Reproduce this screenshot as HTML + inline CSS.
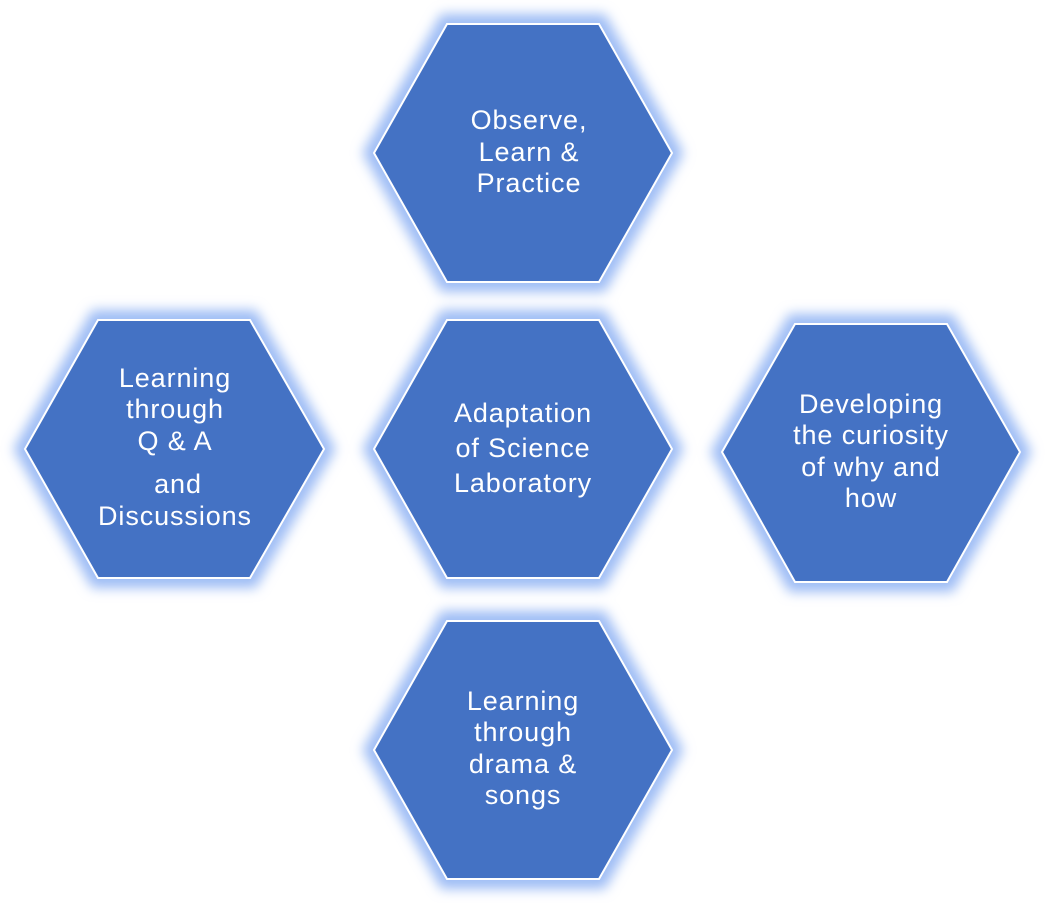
<!DOCTYPE html>
<html><head><meta charset="utf-8"><style>
html,body{margin:0;padding:0;background:#fff;}
svg text{font-family:"Liberation Sans",sans-serif;font-size:27px;fill:#fff;text-anchor:middle;letter-spacing:0.9px;}
</style></head><body>
<svg width="1046" height="903" viewBox="0 0 1046 903" xmlns="http://www.w3.org/2000/svg">
<defs>
<filter id="g" x="-20%" y="-20%" width="140%" height="140%">
<feGaussianBlur stdDeviation="6"/>
</filter>
</defs>
<g fill="none" stroke="#9dbcf5" stroke-width="20" filter="url(#g)">
<polygon points="374,153 447,24 599,24 672,153 599,282 447,282"/>
<polygon points="374,449 447,320 599,320 672,449 599,578 447,578"/>
<polygon points="25,449 98,320 250,320 324,449 250,578 98,578"/>
<polygon points="722,452 795,324 947,324 1020,452 947,582 795,582"/>
<polygon points="374,750 447,621 599,621 672,750 599,879 447,879"/>
</g>
<g fill="#4472c4" stroke="#fff" stroke-width="2">
<polygon points="374,153 447,24 599,24 672,153 599,282 447,282"/>
<polygon points="374,449 447,320 599,320 672,449 599,578 447,578"/>
<polygon points="25,449 98,320 250,320 324,449 250,578 98,578"/>
<polygon points="722,452 795,324 947,324 1020,452 947,582 795,582"/>
<polygon points="374,750 447,621 599,621 672,750 599,879 447,879"/>
</g>
<text x="529" y="129">Observe,</text>
<text x="529" y="161">Learn &amp;</text>
<text x="529" y="192">Practice</text>
<text x="523" y="422">Adaptation</text>
<text x="523" y="457">of Science</text>
<text x="523" y="492">Laboratory</text>
<text x="175" y="387">Learning</text>
<text x="175" y="418">through</text>
<text x="175" y="450">Q &amp; A</text>
<text x="178" y="493">and</text>
<text x="175" y="525">Discussions</text>
<text x="871" y="413">Developing</text>
<text x="871" y="444">the curiosity</text>
<text x="871" y="476">of why and</text>
<text x="871" y="507">how</text>
<text x="523" y="710">Learning</text>
<text x="523" y="741">through</text>
<text x="523" y="773">drama &amp;</text>
<text x="523" y="804">songs</text>
</svg>
</body></html>
